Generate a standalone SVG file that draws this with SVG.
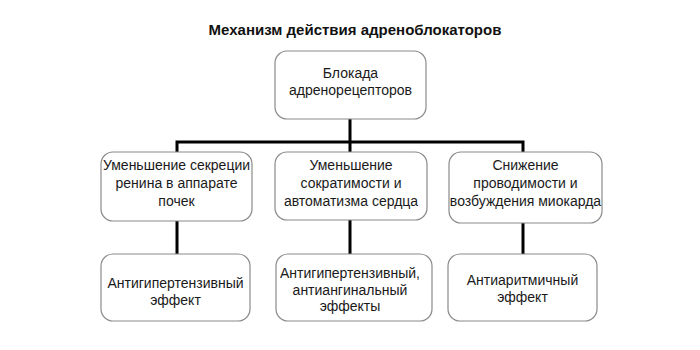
<svg xmlns="http://www.w3.org/2000/svg" width="700" height="350" viewBox="0 0 700 350">
<style>
.box{fill:#fff;stroke:#8a8a8a;stroke-width:1.2}
.t{font-family:"Liberation Sans",Arial,sans-serif;font-size:14px;fill:#1a1a1a;text-anchor:middle;dominant-baseline:central}
.title{font-family:"Liberation Sans",Arial,sans-serif;font-size:15px;font-weight:bold;fill:#111;text-anchor:middle}
.c{stroke:#000;stroke-width:3;fill:none}
</style>
<rect width="700" height="350" fill="#fff"/>
<text class="title" x="355" y="35">Механизм действия адреноблокаторов</text>
<g id="connectors">
<path class="c" d="M350 119V142M177 155V142H523V155M350 142V152"/>
<path class="c" d="M177 221V254M350 220V254M523 223V254"/>
</g>
<g id="n0"><rect class="box" x="275" y="51" width="151" height="68" rx="12"/>
<text class="t" x="350.5" y="73">Блокада</text><text class="t" x="350.5" y="90">адренорецепторов</text></g>
<g id="n1"><rect class="box" x="101" y="152" width="151" height="69" rx="12"/>
<text class="t" x="176.5" y="165">Уменьшение секреции</text><text class="t" x="176.5" y="183">ренина в аппарате</text><text class="t" x="176.5" y="201">почек</text></g>
<g id="n2"><rect class="box" x="275" y="152" width="152" height="68" rx="12"/>
<text class="t" x="351" y="165">Уменьшение</text><text class="t" x="351" y="183">сократимости и</text><text class="t" x="351" y="201">автоматизма сердца</text></g>
<g id="n3"><rect class="box" x="449" y="152" width="153" height="71" rx="12"/>
<text class="t" x="525.5" y="165">Снижение</text><text class="t" x="525.5" y="183">проводимости и</text><text class="t" x="525.5" y="201">возбуждения миокарда</text></g>
<g id="n4"><rect class="box" x="101" y="254" width="149" height="67" rx="12"/>
<text class="t" x="175.5" y="283">Антигипертензивный</text><text class="t" x="175.5" y="300">эффект</text></g>
<g id="n5"><rect class="box" x="276" y="254" width="156" height="67" rx="12"/>
<text class="t" x="350" y="273">Антигипертензивный,</text><text class="t" x="350" y="290">антиангинальный</text><text class="t" x="350" y="306">эффекты</text></g>
<g id="n6"><rect class="box" x="448" y="254" width="149" height="67" rx="12"/>
<text class="t" x="522.5" y="280">Антиаритмичный</text><text class="t" x="522.5" y="297">эффект</text></g>
</svg>
